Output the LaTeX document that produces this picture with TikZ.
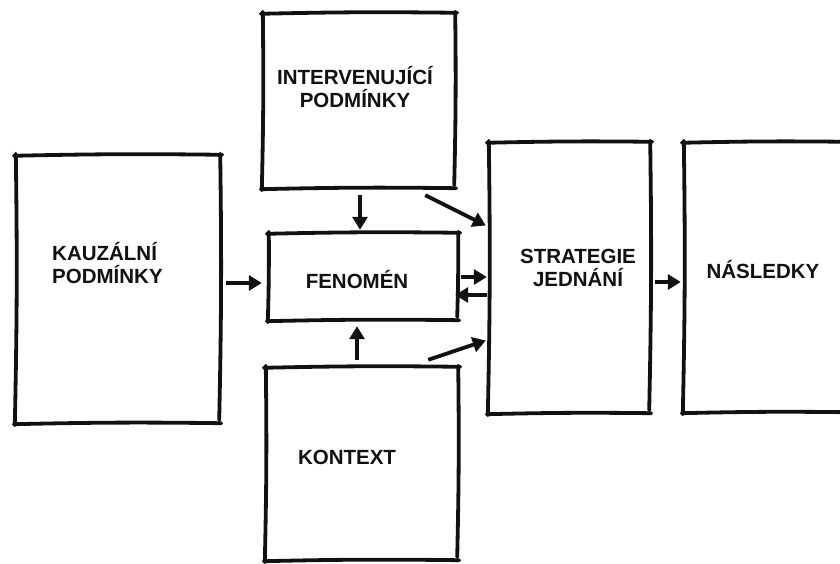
\documentclass[tikz,border=0pt]{standalone}
\usepackage{fontspec}
\setmainfont{Liberation Sans}
\usetikzlibrary{arrows.meta,calc}
\definecolor{ink}{HTML}{111111}
% hand-drawn outline of a named box: slightly uneven sides, small overshoots
\newcommand\sketchoutline[1]{%
  \draw[outline] ($(#1.north west)+(-1,1)$) to[bend left=1] ($(#1.north east)+(2,0)$);
  \draw[outline] ($(#1.north east)+(0,-1)$) to[bend left=1] ($(#1.south east)+(-1,-3)$);
  \draw[outline] ($(#1.south east)+(1,0)$) to[bend right=1] ($(#1.south west)+(-1,1)$);
  \draw[outline] ($(#1.south west)+(0,2)$) to[bend right=1] ($(#1.north west)+(1,-1)$);
}
\begin{document}
\begin{tikzpicture}[x=1pt,y=-1pt,
  box/.style={draw=none,inner sep=0pt,minimum width=#1},
  outline/.style={ink,line width=3.8pt,line cap=round,line join=round},
  lbl/.style={inner sep=0pt,align=center,text=ink,font=\bfseries\fontsize{20.5}{23}\selectfont},
  arr/.style={ink,line width=3.8pt,-{Triangle[length=13pt,width=15pt]}}]
  \useasboundingbox (0,0) rectangle (840,564);
  \fill[white] (0,0) rectangle (840,564);

  % boxes
  \node[box=205pt,minimum height=268pt] (kauz)   at (117.5,289) {};
  \node[box=193pt,minimum height=175pt] (interv) at (358.5,100.5) {};
  \node[box=190pt,minimum height=87pt]  (fen)    at (363,276.5) {};
  \node[box=193pt,minimum height=193pt] (kont)   at (361.5,463.5) {};
  \node[box=162pt,minimum height=271pt] (strat)  at (569,277.5) {};
  \node[box=162pt,minimum height=270pt] (nasl)   at (764,277) {};
  \foreach \b in {kauz,interv,fen,kont,strat,nasl} {\sketchoutline{\b}}

  % labels
  \node[lbl,align=left,anchor=north west] (kauzT) at (52,242) {KAUZÁLNÍ\\PODMÍNKY};
  \node[lbl] (intervT) at (355,87) {INTERVENUJÍCÍ\\PODMÍNKY};
  \node[lbl] (fenT)    at (357,280) {FENOMÉN};
  \node[lbl] (kontT)   at (347,457) {KONTEXT};
  \node[lbl] (stratT)  at (578,268) {STRATEGIE\\JEDNÁNÍ};
  \node[lbl] (naslT)   at (763,270) {NÁSLEDKY};

  % connectors
  \draw[arr] ($(kauz.east)+(6,-6)$) -- ($(fen.west)+(-6,6.5)$);
  \draw[arr] ($(interv.south)+(1.5,7)$) -- ($(fen.north)+(-3,-3)$);
  \draw[arr] ($(interv.south east)+(-30,7)$) -- ($(strat.west)+(-2,-52)$);
  \draw[arr] ($(fen.east)+(3,0.5)$) -- ($(strat.west)+(-1,-0.5)$);
  \draw[arr] ($(strat.west)+(-1,17.5)$) -- ($(fen.east)+(-3,18.5)$);
  \draw[arr] ($(kont.north)+(-4.5,-7)$) -- ($(fen.south)+(-6,6)$);
  \draw[arr] ($(kont.north east)+(-30,-7)$) -- ($(strat.west)+(-2,63)$);
  \draw[arr] ($(strat.east)+(5,4.5)$) -- ($(nasl.west)+(-2,5)$);
\end{tikzpicture}
\end{document}
